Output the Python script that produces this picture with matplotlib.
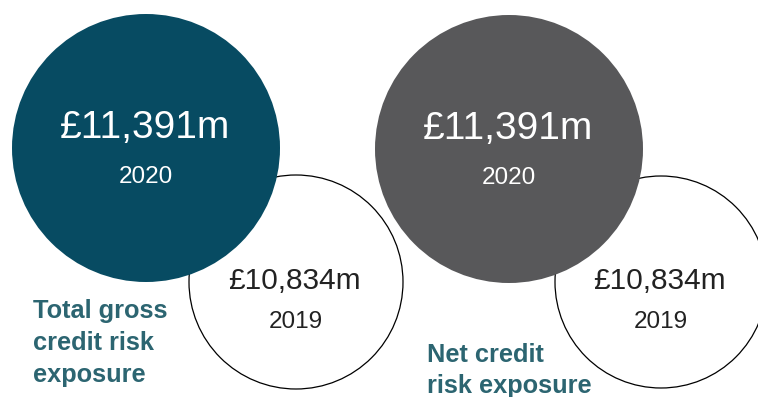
import matplotlib.pyplot as plt
from matplotlib.patches import Circle

# exposure figures, £m
years = [2020, 2019]
gross = [11391, 10834]
net = [11391, 10834]
titles = [["Total gross", "credit risk", "exposure"],
          ["Net credit", "risk exposure"]]

teal = "#074b62"
grey = "#58585a"
label_col = "#2c6571"

plt.rcParams['font.family'] = ['Liberation Sans', 'DejaVu Sans']

fig = plt.figure(figsize=(7.58, 3.97), dpi=100)
ax = fig.add_axes([0, 0, 1, 1])
ax.set_xlim(0, 758)
ax.set_ylim(397, 0)
ax.set_aspect('equal')
ax.axis('off')

# (big centre, big radius, small centre, small radius, fill, title x, first baseline, line gap)
panels = [
    ((146, 148), 134, (296, 282), 107, teal, 33, 318, 32),
    ((509, 149), 134, (661, 282), 106, grey, 427, 362, 31),
]

for (bc, br, sc, sr, col, tx, ty, gap), vals, title in zip(panels, [gross, net], titles):
    ax.add_patch(Circle(sc, sr, facecolor='white', edgecolor='black', lw=0.9, zorder=1))
    ax.add_patch(Circle(bc, br, facecolor=col, edgecolor='none', zorder=2))

    ax.text(bc[0] - 1, bc[1] - 10, f"£{vals[0]:,}m", color='white', fontsize=28,
            ha='center', va='baseline', zorder=3)
    ax.text(bc[0], bc[1] + 35, str(years[0]), color='white', fontsize=17.5,
            ha='center', va='baseline', zorder=3)
    ax.text(sc[0] - 2, sc[1] + 7, f"£{vals[1]:,}m", color='#222222', fontsize=21.5,
            ha='center', va='baseline', zorder=3)
    ax.text(sc[0], sc[1] + 46, str(years[1]), color='#222222', fontsize=17.5,
            ha='center', va='baseline', zorder=3)

    for i, line in enumerate(title):
        ax.text(tx, ty + i * gap, line, color=label_col, fontsize=18.3,
                fontweight='bold', ha='left', va='baseline', zorder=3)

fig.savefig("out.png", dpi=100)
